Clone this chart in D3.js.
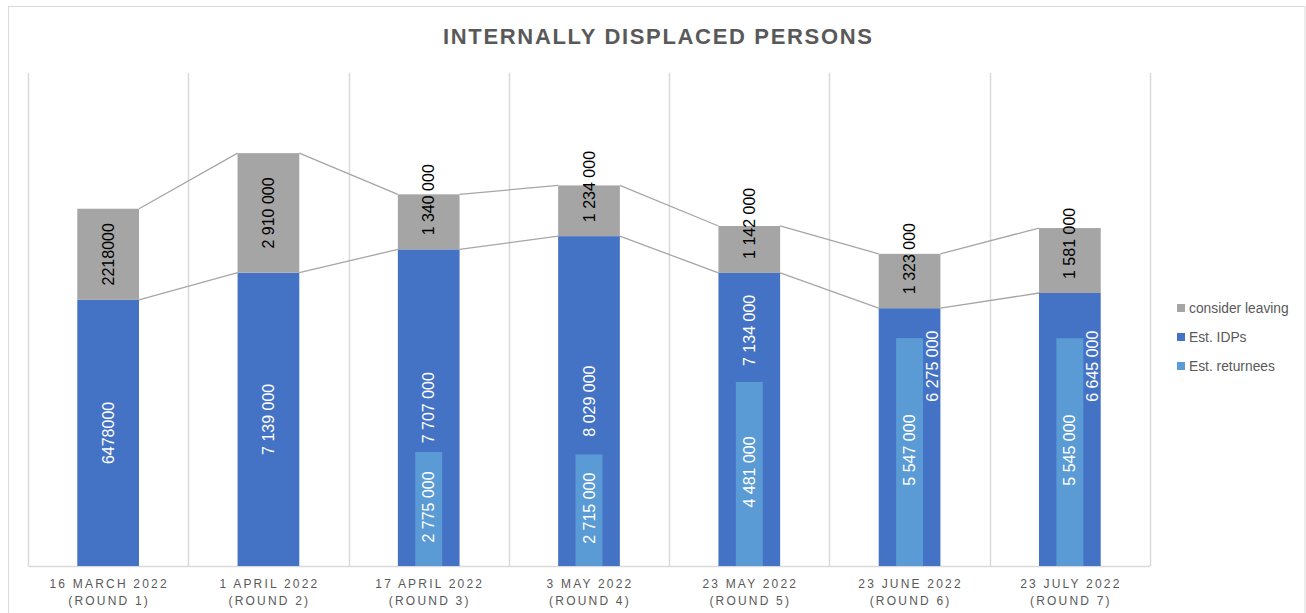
<!DOCTYPE html>
<html>
<head>
<meta charset="utf-8">
<script src="https://cdn.jsdelivr.net/npm/d3@7"></script>
<style>
  html, body { margin: 0; padding: 0; background: #ffffff; }
  svg { display: block; font-family: "Liberation Sans", Arial, sans-serif; }
</style>
</head>
<body>
<svg id="chart" width="1306" height="613"></svg>
<script>
// Survey rounds
const roundDates = ["16 MARCH 2022", "1 APRIL 2022", "17 APRIL 2022", "3 MAY 2022",
                    "23 MAY 2022", "23 JUNE 2022", "23 JULY 2022"];
const roundNames = ["(ROUND 1)", "(ROUND 2)", "(ROUND 3)", "(ROUND 4)",
                    "(ROUND 5)", "(ROUND 6)", "(ROUND 7)"];

// Series values
const estIDPs         = [6478000, 7139000, 7707000, 8029000, 7134000, 6275000, 6645000];
const considerLeaving = [2218000, 2910000, 1340000, 1234000, 1142000, 1323000, 1581000];
const estReturnees    = [null, null, 2775000, 2715000, 4481000, 5547000, 5545000];

// Round 1 figures were published without thousands separators
const groupedDigits   = [false, true, true, true, true, true, true];

const yTicks = [0, 12000000];

const seriesNames  = ["consider leaving", "Est. IDPs", "Est. returnees"];
const seriesColors = ["#A5A5A5", "#4472C4", "#5B9BD5"];

const svg = d3.select("#chart");
const plot = { left: 28, right: 1150, top: 73, bottom: 566 };

const fmtGroup = d3.format(",");
function fmt(v, i) {
  return groupedDigits[i] ? fmtGroup(v).replace(/,/g, " ") : String(v);
}

// Chart frame
svg.append("rect")
  .attr("x", 8.5).attr("y", 6.5).attr("width", 1296.5).attr("height", 620)
  .attr("fill", "#ffffff").attr("stroke", "#D9D9D9").attr("stroke-width", 1);

// Title
svg.append("text")
  .attr("x", 657.5).attr("y", 44)
  .attr("text-anchor", "middle")
  .attr("font-size", 22).attr("font-weight", "bold")
  .attr("fill", "#595959")
  .attr("textLength", 429).attr("lengthAdjust", "spacing")
  .text("INTERNALLY DISPLACED PERSONS");

const x = d3.scaleBand().domain(d3.range(roundDates.length))
  .range([plot.left, plot.right]).paddingInner(0).paddingOuter(0);
const y = d3.scaleLinear().domain(d3.extent(yTicks)).range([plot.bottom, plot.top]);

const bw = x.bandwidth();
const barW = bw * 0.385;
const retW = bw * 0.168;

// Vertical category gridlines
svg.append("g").selectAll("line.grid")
  .data(d3.range(roundDates.length + 1))
  .join("line")
  .attr("class", "grid")
  .attr("x1", i => Math.round(plot.left + i * bw) + 0.5)
  .attr("x2", i => Math.round(plot.left + i * bw) + 0.5)
  .attr("y1", plot.top).attr("y2", plot.bottom)
  .attr("stroke", "#D9D9D9").attr("stroke-width", 1.5);

// Category axis
const xAxis = d3.axisBottom(x).tickSize(0).tickSizeOuter(0).tickFormat(() => "");
const axisG = svg.append("g").attr("transform", `translate(0,${plot.bottom})`).call(xAxis);
axisG.select(".domain").attr("stroke", "#D9D9D9").attr("stroke-width", 1.5);
axisG.selectAll(".tick text").remove();
axisG.selectAll(".tick").each(function (i) {
  const t = d3.select(this).append("text")
    .attr("text-anchor", "middle")
    .attr("font-size", 12)
    .attr("letter-spacing", "2.2px")
    .attr("fill", "#595959");
  t.append("tspan").attr("x", 1).attr("y", 22).text(roundDates[i]);
  t.append("tspan").attr("x", 1).attr("y", 39).text(roundNames[i]);
});

// Stack tops
const idpTop = estIDPs.map(v => y(v));
const totTop = estIDPs.map((v, i) => y(v + considerLeaving[i]));

// Series lines joining the stacked segments
const connectors = svg.append("g");
for (let i = 0; i < roundDates.length - 1; i++) {
  const xr = x(i) + bw / 2 + barW / 2;
  const xl = x(i + 1) + bw / 2 - barW / 2;
  [[idpTop[i], idpTop[i + 1]], [totTop[i], totTop[i + 1]]].forEach(([a, b]) => {
    connectors.append("line")
      .attr("x1", xr).attr("y1", a).attr("x2", xl).attr("y2", b)
      .attr("stroke", "#A6A6A6").attr("stroke-width", 1.3);
  });
}

// Stacked bars
const bars = svg.append("g");
bars.selectAll("rect.idp").data(estIDPs).join("rect")
  .attr("class", "idp")
  .attr("x", (d, i) => x(i) + bw / 2 - barW / 2)
  .attr("width", barW)
  .attr("y", d => y(d))
  .attr("height", d => y(0) - y(d))
  .attr("fill", seriesColors[1]);

bars.selectAll("rect.leave").data(considerLeaving).join("rect")
  .attr("class", "leave")
  .attr("x", (d, i) => x(i) + bw / 2 - barW / 2)
  .attr("width", barW)
  .attr("y", (d, i) => y(estIDPs[i] + d))
  .attr("height", (d, i) => y(estIDPs[i]) - y(estIDPs[i] + d))
  .attr("fill", seriesColors[0]);

// Returnees drawn as a narrower bar inside each IDP bar
const retData = estReturnees.map((v, i) => ({ v, i })).filter(d => d.v != null);
bars.selectAll("rect.ret").data(retData).join("rect")
  .attr("class", "ret")
  .attr("x", d => x(d.i) + bw / 2 - retW / 2)
  .attr("width", retW)
  .attr("y", d => y(d.v))
  .attr("height", d => y(0) - y(d.v))
  .attr("fill", seriesColors[2]);

// Value labels (rotated, reading upward)
const labels = svg.append("g").attr("font-size", 16);
function vlabel(cx, cy, txt, color) {
  labels.append("text")
    .attr("transform", `translate(${cx},${cy}) rotate(-90)`)
    .attr("text-anchor", "middle")
    .attr("dominant-baseline", "central")
    .attr("fill", color)
    .text(txt);
}
function textLen(txt) {
  const t = labels.append("text").text(txt);
  const w = t.node().getComputedTextLength();
  t.remove();
  return w;
}

roundDates.forEach((_, i) => {
  const cx = x(i) + bw / 2;

  // consider leaving
  const lt = fmt(considerLeaving[i], i);
  const ll = textLen(lt);
  const segTop = totTop[i], segBot = idpTop[i];
  let cy = (segTop + segBot) / 2;
  if (cy + ll / 2 > segBot - 14) cy = segBot - 14 - ll / 2;
  vlabel(cx, cy, lt, "#000000");

  // Est. IDPs
  const it = fmt(estIDPs[i], i);
  const il = textLen(it);
  const rTop = estReturnees[i] != null ? y(estReturnees[i]) : plot.bottom;
  let icx = cx, icy = (idpTop[i] + plot.bottom) / 2;
  if (icy + il / 2 + 6 > rTop) {
    if (rTop - idpTop[i] >= il + 10) {
      icy = (idpTop[i] + rTop) / 2 + 3;
    } else {
      icx = cx + barW / 2 - 8;
      icy = rTop + 28;
    }
  }
  vlabel(icx, icy, it, "#FFFFFF");

  // Est. returnees
  if (estReturnees[i] != null) {
    vlabel(cx, (rTop + plot.bottom) / 2 - 2, fmt(estReturnees[i], i), "#FFFFFF");
  }
});

// Legend
const legend = svg.append("g").attr("transform", "translate(1177,308)");
seriesNames.forEach((name, k) => {
  const row = legend.append("g").attr("transform", `translate(0,${k * 29})`);
  row.append("rect").attr("x", 0).attr("y", -4).attr("width", 8).attr("height", 8)
    .attr("fill", seriesColors[k]);
  row.append("text").attr("x", 12).attr("y", 0)
    .attr("dominant-baseline", "central")
    .attr("font-size", 13.8).attr("fill", "#595959")
    .text(name);
});
</script>
</body>
</html>
